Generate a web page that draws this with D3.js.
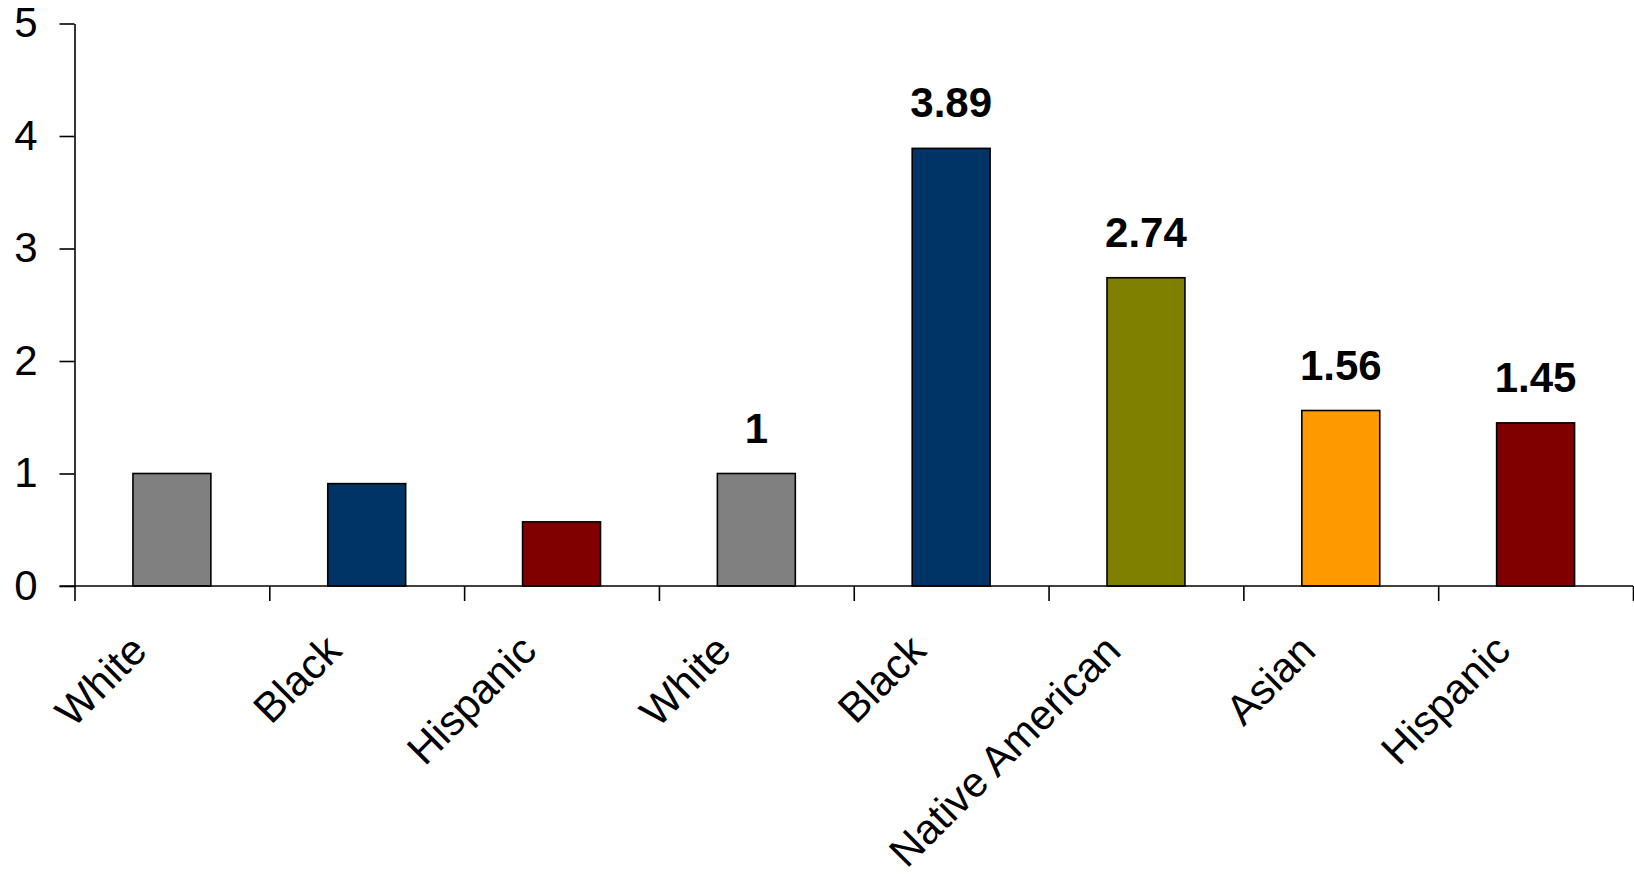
<!DOCTYPE html>
<html>
<head>
<meta charset="utf-8">
<script src="https://cdn.jsdelivr.net/npm/d3@7"></script>
<style>
  html, body { margin: 0; padding: 0; background: #fff; }
  svg { display: block; font-family: "Liberation Sans", Arial, sans-serif; }
</style>
</head>
<body>
<svg id="chart" width="1634" height="880"></svg>
<script>
// Categories along the x axis (two groups: first three, then five)
const categories = ["White", "Black", "Hispanic", "White", "Black", "Native American", "Asian", "Hispanic"];
// Bar heights
const values = [1, 0.91, 0.57, 1, 3.89, 2.74, 1.56, 1.45];
// Which bars carry a printed value above them
const showValue = [false, false, false, true, true, true, true, true];
// Fill colour per bar
const colors = ["#808080", "#003366", "#800000", "#808080", "#003366", "#808000", "#FF9900", "#800000"];
// Y axis ticks
const yTicks = [0, 1, 2, 3, 4, 5];

const svg = d3.select("#chart");

const x0 = 74.5, x1 = 1633;
const yTop = 23.5, yBase = 586;

const x = d3.scaleBand()
  .domain(d3.range(categories.length))
  .range([x0, x1])
  .paddingInner(0.6)
  .paddingOuter(0.3);

const y = d3.scaleLinear().domain([0, 5]).range([yBase, yTop]);

// Category boundary scale for the x tick marks
const xb = d3.scaleLinear().domain([0, categories.length]).range([x0, x1]);

// Bars
svg.append("g")
  .selectAll("rect")
  .data(values)
  .join("rect")
  .attr("x", (d, i) => x(i))
  .attr("y", d => y(d))
  .attr("width", x.bandwidth())
  .attr("height", d => y(0) - y(d))
  .attr("fill", (d, i) => colors[i])
  .attr("stroke", "#000")
  .attr("stroke-width", 1.6);

// Y axis
const yAxis = svg.append("g")
  .attr("transform", `translate(${x0},0)`)
  .call(d3.axisLeft(y).tickValues(yTicks).tickFormat(d3.format("d")).tickSize(15).tickSizeOuter(0).tickPadding(22));
yAxis.select(".domain").attr("stroke", "#000").attr("stroke-width", 1.6);
yAxis.selectAll(".tick line").attr("stroke", "#000").attr("stroke-width", 1.6);
yAxis.selectAll(".tick text")
  .attr("font-size", 42)
  .attr("font-family", "Liberation Sans, Arial, sans-serif")
  .attr("fill", "#000");

// X axis: boundary ticks, no labels from the axis itself
const xAxis = svg.append("g")
  .attr("transform", `translate(0,${yBase})`)
  .call(d3.axisBottom(xb).tickValues(d3.range(categories.length + 1)).tickFormat("").tickSize(15).tickSizeOuter(0));
xAxis.select(".domain").remove();
xAxis.selectAll(".tick line").attr("stroke", "#000").attr("stroke-width", 1.6);
xAxis.append("line")
  .attr("x1", x0 - 15).attr("x2", x1)
  .attr("y1", 0).attr("y2", 0)
  .attr("stroke", "#000").attr("stroke-width", 1.6);

// Rotated category labels
svg.append("g")
  .selectAll("text")
  .data(categories)
  .join("text")
  .attr("transform", (d, i) => `translate(${x(i) + x.bandwidth() / 2 - 23},${yBase + 67}) rotate(-45)`)
  .attr("text-anchor", "end")
  .attr("font-size", 42)
  .attr("fill", "#000")
  .text(d => d);

// Value labels above bars
svg.append("g")
  .selectAll("text")
  .data(values.map((v, i) => ({ v, i })).filter(d => showValue[d.i]))
  .join("text")
  .attr("x", d => x(d.i) + x.bandwidth() / 2)
  .attr("y", d => y(d.v) - 31)
  .attr("text-anchor", "middle")
  .attr("font-size", 42)
  .attr("font-weight", "bold")
  .attr("fill", "#000")
  .text(d => String(d.v));
</script>
</body>
</html>
